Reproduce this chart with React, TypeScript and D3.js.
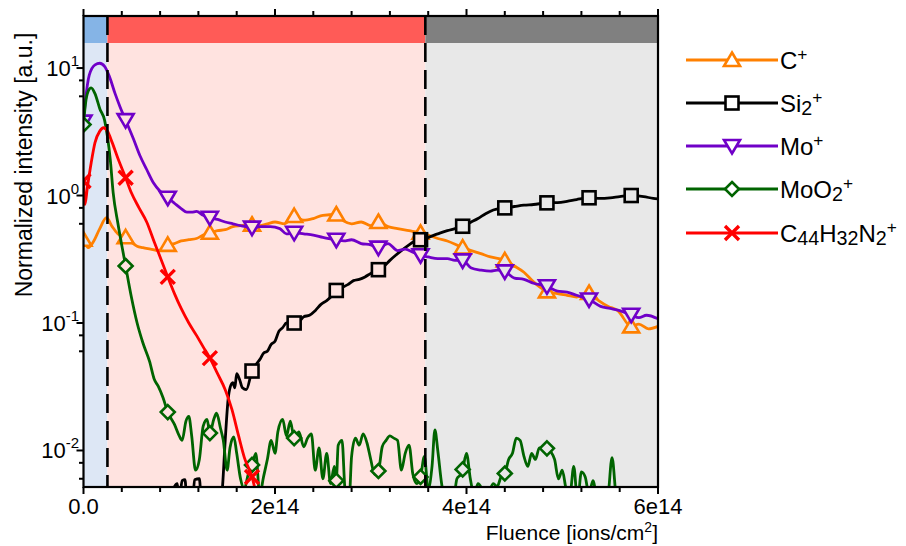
import React from 'react';
import * as d3 from 'd3';

const WIDTH = 906;
const HEIGHT = 546;
const PLOT = { left: 83.5, right: 658, top: 16, bottom: 487 };
const BAND_H = 27;
const Y_MIN = 0.00517;
const Y_MAX = 25.6;
const FONT = '"Liberation Sans", Arial, sans-serif';

// x values in units of 1e14 ions/cm^2
const markerFluence = [0, 0.44, 0.88, 1.32, 1.76, 2.2, 2.64, 3.08, 3.52, 3.96, 4.4, 4.84, 5.28, 5.72];

const cPlusData: number[][] = [
  [0, 0.45], [0.05, 0.39], [0.1, 0.43], [0.17, 0.55], [0.24, 0.67], [0.3, 0.57], [0.36, 0.5], [0.44, 0.47],
  [0.5, 0.43], [0.56, 0.4], [0.62, 0.39], [0.7, 0.38], [0.78, 0.37], [0.88, 0.41], [0.95, 0.42], [1.02, 0.44],
  [1.1, 0.45], [1.18, 0.46], [1.25, 0.49], [1.32, 0.51], [1.4, 0.53], [1.48, 0.54], [1.56, 0.57], [1.64, 0.58],
  [1.76, 0.59], [1.84, 0.58], [1.92, 0.6], [2.0, 0.62], [2.1, 0.6], [2.2, 0.69], [2.3, 0.64], [2.4, 0.66],
  [2.5, 0.7], [2.64, 0.71], [2.72, 0.63], [2.8, 0.6], [2.9, 0.62], [3.0, 0.58], [3.08, 0.62], [3.18, 0.57],
  [3.28, 0.55], [3.4, 0.53], [3.52, 0.51], [3.6, 0.49], [3.7, 0.46], [3.8, 0.44], [3.96, 0.39], [4.05, 0.37],
  [4.15, 0.35], [4.25, 0.33], [4.4, 0.31], [4.5, 0.28], [4.6, 0.25], [4.7, 0.21], [4.84, 0.177], [4.95, 0.17],
  [5.05, 0.165], [5.15, 0.16], [5.28, 0.172], [5.38, 0.15], [5.48, 0.135], [5.58, 0.125], [5.72, 0.094],
  [5.8, 0.098], [5.9, 0.09], [6.0, 0.094],
];

const si2PlusData: number[][] = [
  [0, 0.003], [0.44, 0.003], [0.88, 0.003], [0.9, 0.003], [0.95, 0.0052], [0.98, 0.0055], [1.0, 0.004],
  [1.03, 0.0058], [1.06, 0.0059], [1.08, 0.004], [1.14, 0.004], [1.16, 0.0059], [1.21, 0.006], [1.23, 0.004],
  [1.3, 0.003], [1.32, 0.003], [1.4, 0.003], [1.45, 0.005], [1.48, 0.012], [1.51, 0.025], [1.53, 0.031],
  [1.56, 0.034], [1.58, 0.031], [1.6, 0.04], [1.63, 0.036], [1.66, 0.031], [1.7, 0.03], [1.76, 0.042],
  [1.8, 0.047], [1.85, 0.053], [1.88, 0.058], [1.92, 0.06], [1.96, 0.068], [2.0, 0.072], [2.04, 0.086],
  [2.08, 0.092], [2.12, 0.1], [2.16, 0.098], [2.2, 0.1], [2.26, 0.104], [2.3, 0.112], [2.36, 0.115],
  [2.42, 0.125], [2.48, 0.14], [2.54, 0.15], [2.6, 0.165], [2.64, 0.18], [2.7, 0.19], [2.76, 0.2],
  [2.82, 0.215], [2.88, 0.22], [2.94, 0.23], [3.0, 0.245], [3.08, 0.262], [3.14, 0.28], [3.2, 0.31],
  [3.26, 0.34], [3.32, 0.37], [3.4, 0.41], [3.46, 0.44], [3.52, 0.45], [3.6, 0.47], [3.7, 0.5], [3.8, 0.53],
  [3.88, 0.55], [3.96, 0.574], [4.05, 0.62], [4.12, 0.66], [4.2, 0.72], [4.28, 0.77], [4.4, 0.8], [4.5, 0.82],
  [4.6, 0.84], [4.7, 0.85], [4.84, 0.876], [4.95, 0.88], [5.05, 0.9], [5.15, 0.93], [5.28, 0.96], [5.4, 0.95],
  [5.5, 0.96], [5.6, 0.98], [5.72, 1.0], [5.85, 0.98], [5.95, 0.95], [6.0, 0.94],
];

const moPlusData: number[][] = [
  [0, 3.8], [0.02, 5.5], [0.06, 8.8], [0.12, 10.6], [0.17, 10.9], [0.22, 10.3], [0.27, 8.6], [0.33, 6.3],
  [0.38, 5.0], [0.44, 3.9], [0.52, 2.8], [0.59, 2.05], [0.66, 1.6], [0.73, 1.26], [0.8, 1.08], [0.88, 0.96],
  [0.95, 0.87], [1.02, 0.79], [1.08, 0.74], [1.13, 0.74], [1.18, 0.75], [1.25, 0.7], [1.32, 0.67], [1.4, 0.65],
  [1.48, 0.62], [1.56, 0.6], [1.64, 0.58], [1.76, 0.56], [1.85, 0.57], [1.95, 0.57], [2.05, 0.55], [2.12, 0.5],
  [2.2, 0.51], [2.3, 0.5], [2.4, 0.49], [2.5, 0.47], [2.64, 0.45], [2.72, 0.44], [2.8, 0.45], [2.9, 0.42],
  [3.0, 0.41], [3.08, 0.39], [3.18, 0.42], [3.28, 0.37], [3.36, 0.38], [3.44, 0.36], [3.52, 0.34], [3.6, 0.33],
  [3.7, 0.32], [3.8, 0.32], [3.88, 0.31], [3.96, 0.31], [4.05, 0.27], [4.15, 0.26], [4.25, 0.255], [4.32, 0.26],
  [4.4, 0.254], [4.5, 0.225], [4.6, 0.22], [4.7, 0.205], [4.84, 0.194], [4.95, 0.178], [5.05, 0.175],
  [5.15, 0.165], [5.28, 0.153], [5.4, 0.135], [5.5, 0.13], [5.6, 0.125], [5.72, 0.116], [5.8, 0.11],
  [5.88, 0.115], [6.0, 0.108],
];

const moO2PlusData: number[][] = [
  [0, 3.6], [0.02, 5.2], [0.05, 6.6], [0.08, 7.0], [0.12, 6.3], [0.17, 4.8], [0.22, 3.9], [0.25, 2.9],
  [0.28, 1.9], [0.31, 1.05], [0.36, 0.6], [0.44, 0.28], [0.5, 0.16], [0.56, 0.1], [0.62, 0.07], [0.69, 0.05],
  [0.74, 0.036], [0.78, 0.032], [0.83, 0.026], [0.88, 0.02], [0.95, 0.016], [1.0, 0.013], [1.03, 0.012],
  [1.07, 0.017], [1.1, 0.0185], [1.13, 0.013], [1.17, 0.007], [1.21, 0.0085], [1.25, 0.0155], [1.29, 0.0175],
  [1.32, 0.0137], [1.36, 0.0175], [1.39, 0.0196], [1.43, 0.015], [1.46, 0.012], [1.5, 0.007], [1.53, 0.0105],
  [1.57, 0.0128], [1.6, 0.0095], [1.64, 0.006], [1.68, 0.005], [1.72, 0.0065], [1.76, 0.0077], [1.8, 0.0095],
  [1.84, 0.0045], [1.88, 0.0062], [1.92, 0.0085], [1.96, 0.012], [2.0, 0.0095], [2.03, 0.014], [2.08, 0.0175],
  [2.12, 0.013], [2.16, 0.017], [2.2, 0.0125], [2.25, 0.014], [2.3, 0.0107], [2.34, 0.0125], [2.38, 0.0135],
  [2.42, 0.007], [2.46, 0.0105], [2.5, 0.006], [2.54, 0.0095], [2.58, 0.0055], [2.62, 0.0075], [2.64, 0.0058],
  [2.66, 0.011], [2.7, 0.012], [2.73, 0.005], [2.77, 0.0035], [2.8, 0.009], [2.84, 0.0125], [2.88, 0.011],
  [2.92, 0.0135], [2.96, 0.0115], [3.0, 0.0085], [3.04, 0.0065], [3.08, 0.0069], [3.12, 0.0107], [3.16, 0.012],
  [3.2, 0.013], [3.24, 0.0125], [3.28, 0.012], [3.32, 0.007], [3.36, 0.0095], [3.4, 0.011], [3.44, 0.0065],
  [3.48, 0.0055], [3.52, 0.0062], [3.56, 0.009], [3.6, 0.005], [3.64, 0.0075], [3.67, 0.0145], [3.7, 0.01],
  [3.74, 0.0055], [3.78, 0.004], [3.82, 0.0045], [3.86, 0.004], [3.9, 0.006], [3.94, 0.0065], [3.96, 0.0071],
  [4.0, 0.0095], [4.04, 0.006], [4.08, 0.0045], [4.12, 0.0055], [4.16, 0.005], [4.2, 0.004], [4.24, 0.0048],
  [4.28, 0.0055], [4.32, 0.0052], [4.36, 0.0062], [4.4, 0.0066], [4.44, 0.0085], [4.48, 0.0095], [4.52, 0.0125],
  [4.56, 0.012], [4.6, 0.009], [4.64, 0.0075], [4.68, 0.0095], [4.72, 0.0085], [4.76, 0.0105], [4.8, 0.0102],
  [4.84, 0.0104], [4.88, 0.0098], [4.92, 0.0085], [4.96, 0.006], [5.0, 0.007], [5.04, 0.005], [5.08, 0.0045],
  [5.12, 0.0075], [5.16, 0.004], [5.2, 0.0068], [5.24, 0.0062], [5.28, 0.0045], [5.32, 0.0058], [5.36, 0.0042],
  [5.4, 0.003], [5.44, 0.0035], [5.48, 0.0045], [5.52, 0.0088], [5.56, 0.0045], [5.6, 0.003], [5.7, 0.002],
  [5.72, 0.002], [5.8, 0.002], [6.0, 0.002],
];

const c44Data: number[][] = [
  [0, 1.3], [0.015, 0.85], [0.04, 1.15], [0.08, 1.8], [0.12, 2.6], [0.17, 3.2], [0.21, 3.4], [0.25, 3.2],
  [0.3, 2.6], [0.36, 1.95], [0.44, 1.38], [0.5, 1.05], [0.58, 0.8], [0.66, 0.62], [0.74, 0.43], [0.8, 0.33],
  [0.88, 0.23], [0.95, 0.17], [1.02, 0.13], [1.1, 0.1], [1.18, 0.08], [1.25, 0.065], [1.32, 0.053], [1.4, 0.04],
  [1.48, 0.03], [1.55, 0.021], [1.62, 0.013], [1.68, 0.0088], [1.76, 0.0062], [1.82, 0.004], [1.86, 0.003],
];

const seriesNames = ['C+', 'Si2+', 'Mo+', 'MoO2+', 'C44H32N2+'];
const seriesColors = ['#ff8000', '#000000', '#7000c8', '#006400', '#ff0000'];
const seriesShapes = ['up', 'square', 'down', 'diamond', 'x'];
const seriesData = [cPlusData, si2PlusData, moPlusData, moO2PlusData, c44Data];

type Part = { t: string; k: 'n' | 'b' | 'p' };
const legendLabels: Part[][] = [
  [{ t: 'C', k: 'n' }, { t: '+', k: 'p' }],
  [{ t: 'Si', k: 'n' }, { t: '2', k: 'b' }, { t: '+', k: 'p' }],
  [{ t: 'Mo', k: 'n' }, { t: '+', k: 'p' }],
  [{ t: 'MoO', k: 'n' }, { t: '2', k: 'b' }, { t: '+', k: 'p' }],
  [{ t: 'C', k: 'n' }, { t: '44', k: 'b' }, { t: 'H', k: 'n' }, { t: '32', k: 'b' }, { t: 'N', k: 'n' }, { t: '2', k: 'b' }, { t: '+', k: 'p' }],
];

const regionBounds = [0, 0.25e14, 3.57e14, 6e14];
const regionFills = ['#dde7f5', '#ffe3e0', '#e8e8e8'];
const regionBands = ['#85b4e6', '#ff5b57', '#808080'];
const dashedAt = [0.25e14, 3.57e14];

const xMajorTicks = [0, 2e14, 4e14, 6e14];
const xTickLabels = ['0.0', '2e14', '4e14', '6e14'];
const xMinorTicks = d3.range(0, 16).map((i) => i * 0.4e14);
const yMajorTicks = [10, 1, 0.1, 0.01];
const yTickExponents = ['1', '0', '-1', '-2'];
const yMinorTicks = [8, 6, 0.8, 0.6, 0.08, 0.06, 0.008, 0.006];

function RichText({ parts, x, y, size, anchor }: { parts: Part[]; x: number; y: number; size: number; anchor?: string }) {
  let cur = 0;
  const spans = parts.map((p, i) => {
    const target = p.k === 'b' ? size * 0.14 : p.k === 'p' ? -size * 0.36 : 0;
    const dy = target - cur;
    cur = target;
    const fs = p.k === 'n' ? size : p.k === 'b' ? size * 0.82 : size * 0.72;
    return (
      <tspan key={i} dy={dy} fontSize={fs}>
        {p.t}
      </tspan>
    );
  });
  return (
    <text x={x} y={y} fontSize={size} textAnchor={anchor || 'start'} fontFamily={FONT} fill="#000">
      {spans}
    </text>
  );
}

function Marker({ shape, cx, cy, color, fill }: { shape: string; cx: number; cy: number; color: string; fill: string }) {
  const sw = 2.6;
  if (shape === 'up')
    return <path d={`M${cx},${cy - 7.5}L${cx + 8},${cy + 6}L${cx - 8},${cy + 6}Z`} fill={fill} stroke={color} strokeWidth={sw} strokeLinejoin="miter" />;
  if (shape === 'down')
    return <path d={`M${cx},${cy + 7.5}L${cx + 8},${cy - 6}L${cx - 8},${cy - 6}Z`} fill={fill} stroke={color} strokeWidth={sw} strokeLinejoin="miter" />;
  if (shape === 'square')
    return <rect x={cx - 6.5} y={cy - 6.5} width={13} height={13} fill={fill} stroke={color} strokeWidth={sw} />;
  if (shape === 'diamond')
    return <path d={`M${cx},${cy - 7}L${cx + 7},${cy}L${cx},${cy + 7}L${cx - 7},${cy}Z`} fill={fill} stroke={color} strokeWidth={sw} />;
  return (
    <path
      d={`M${cx - 7},${cy - 7}L${cx + 7},${cy + 7}M${cx + 7},${cy - 7}L${cx - 7},${cy + 7}`}
      fill="none"
      stroke={color}
      strokeWidth={3.4}
    />
  );
}

export default function App() {
  const x = d3.scaleLinear().domain([0, 6e14]).range([PLOT.left, PLOT.right]);
  const y = d3.scaleLog().domain([Y_MIN, Y_MAX]).range([PLOT.bottom, PLOT.top]);
  const line = d3
    .line<number[]>()
    .x((d) => x(d[0] * 1e14))
    .y((d) => y(d[1]))
    .curve(d3.curveMonotoneX);

  const fillAt = (f: number) => {
    for (let i = 0; i < 3; i++) if (f < regionBounds[i + 1]) return regionFills[i];
    return regionFills[2];
  };

  const legendX0 = 686;
  const legendX1 = 778;
  const legendYs = [60, 103, 146, 189, 233];

  return (
    <svg width={WIDTH} height={HEIGHT} style={{ position: 'absolute', left: 0, top: 0, background: '#fff' }}>
      <defs>
        <clipPath id="plotClip">
          <rect x={PLOT.left} y={PLOT.top} width={PLOT.right - PLOT.left} height={PLOT.bottom - PLOT.top} />
        </clipPath>
      </defs>

      {/* regions */}
      {regionFills.map((c, i) => (
        <g key={i}>
          <rect
            x={x(regionBounds[i])}
            y={PLOT.top}
            width={x(regionBounds[i + 1]) - x(regionBounds[i])}
            height={PLOT.bottom - PLOT.top}
            fill={c}
          />
          <rect
            x={x(regionBounds[i])}
            y={PLOT.top}
            width={x(regionBounds[i + 1]) - x(regionBounds[i])}
            height={BAND_H}
            fill={regionBands[i]}
          />
        </g>
      ))}

      {/* series */}
      <g clipPath="url(#plotClip)">
        {seriesData.map((data, si) => (
          <g key={si}>
            <path d={line(data) || ''} fill="none" stroke={seriesColors[si]} strokeWidth={2.8} strokeLinejoin="round" />
            {data
              .filter((d) => markerFluence.some((m) => Math.abs(m - d[0]) < 1e-9))
              .map((d, j) => (
                <Marker
                  key={j}
                  shape={seriesShapes[si]}
                  cx={x(d[0] * 1e14)}
                  cy={y(d[1])}
                  color={seriesColors[si]}
                  fill={fillAt(d[0] * 1e14)}
                />
              ))}
          </g>
        ))}
      </g>

      {/* dashed boundaries */}
      {dashedAt.map((v, i) => (
        <line key={i} x1={x(v)} x2={x(v)} y1={PLOT.top} y2={PLOT.bottom} stroke="#000" strokeWidth={2.6} strokeDasharray="19,8" />
      ))}

      {/* frame */}
      <rect
        x={PLOT.left}
        y={PLOT.top}
        width={PLOT.right - PLOT.left}
        height={PLOT.bottom - PLOT.top}
        fill="none"
        stroke="#000"
        strokeWidth={2.2}
      />

      {/* x ticks (bottom and top) */}
      {xMinorTicks.map((v, i) => {
        const major = xMajorTicks.some((m) => Math.abs(m - v) < 1);
        const len = major ? 7 : 5;
        return (
          <g key={i}>
            <line x1={x(v)} x2={x(v)} y1={PLOT.bottom} y2={PLOT.bottom + len} stroke="#000" strokeWidth={2} />
            <line x1={x(v)} x2={x(v)} y1={PLOT.top} y2={PLOT.top - len} stroke="#000" strokeWidth={2} />
          </g>
        );
      })}
      {xMajorTicks.map((v, i) => (
        <text key={i} x={x(v)} y={514} fontSize={22} textAnchor="middle" fontFamily={FONT}>
          {xTickLabels[i]}
        </text>
      ))}

      {/* y ticks */}
      {yMajorTicks.map((v, i) => (
        <g key={i}>
          <line x1={PLOT.left} x2={PLOT.left - 7} y1={y(v)} y2={y(v)} stroke="#000" strokeWidth={2} />
          <text x={79} y={y(v) + 8} fontSize={22} textAnchor="end" fontFamily={FONT}>
            <tspan>10</tspan>
            <tspan dy={-10} fontSize={15}>
              {yTickExponents[i]}
            </tspan>
          </text>
        </g>
      ))}
      {yMinorTicks.map((v, i) => (
        <line key={i} x1={PLOT.left} x2={PLOT.left - 4.5} y1={y(v)} y2={y(v)} stroke="#000" strokeWidth={2} />
      ))}

      {/* axis titles */}
      <text transform={`translate(32, 165) rotate(-90)`} fontSize={23} textAnchor="middle" fontFamily={FONT}>
        Normalized intensity [a.u.]
      </text>
      <text x={PLOT.right} y={540} fontSize={21} textAnchor="end" fontFamily={FONT}>
        <tspan>Fluence [ions/cm</tspan>
        <tspan dy={-8} fontSize={14}>2</tspan>
        <tspan dy={8}>]</tspan>
      </text>

      {/* legend */}
      {seriesNames.map((n, i) => (
        <g key={n}>
          <line x1={legendX0} x2={legendX1} y1={legendYs[i]} y2={legendYs[i]} stroke={seriesColors[i]} strokeWidth={2.8} />
          <Marker shape={seriesShapes[i]} cx={(legendX0 + legendX1) / 2} cy={legendYs[i]} color={seriesColors[i]} fill="#fff" />
          <RichText parts={legendLabels[i]} x={legendX1 + 2} y={legendYs[i] + 8.5} size={24} />
        </g>
      ))}
    </svg>
  );
}
